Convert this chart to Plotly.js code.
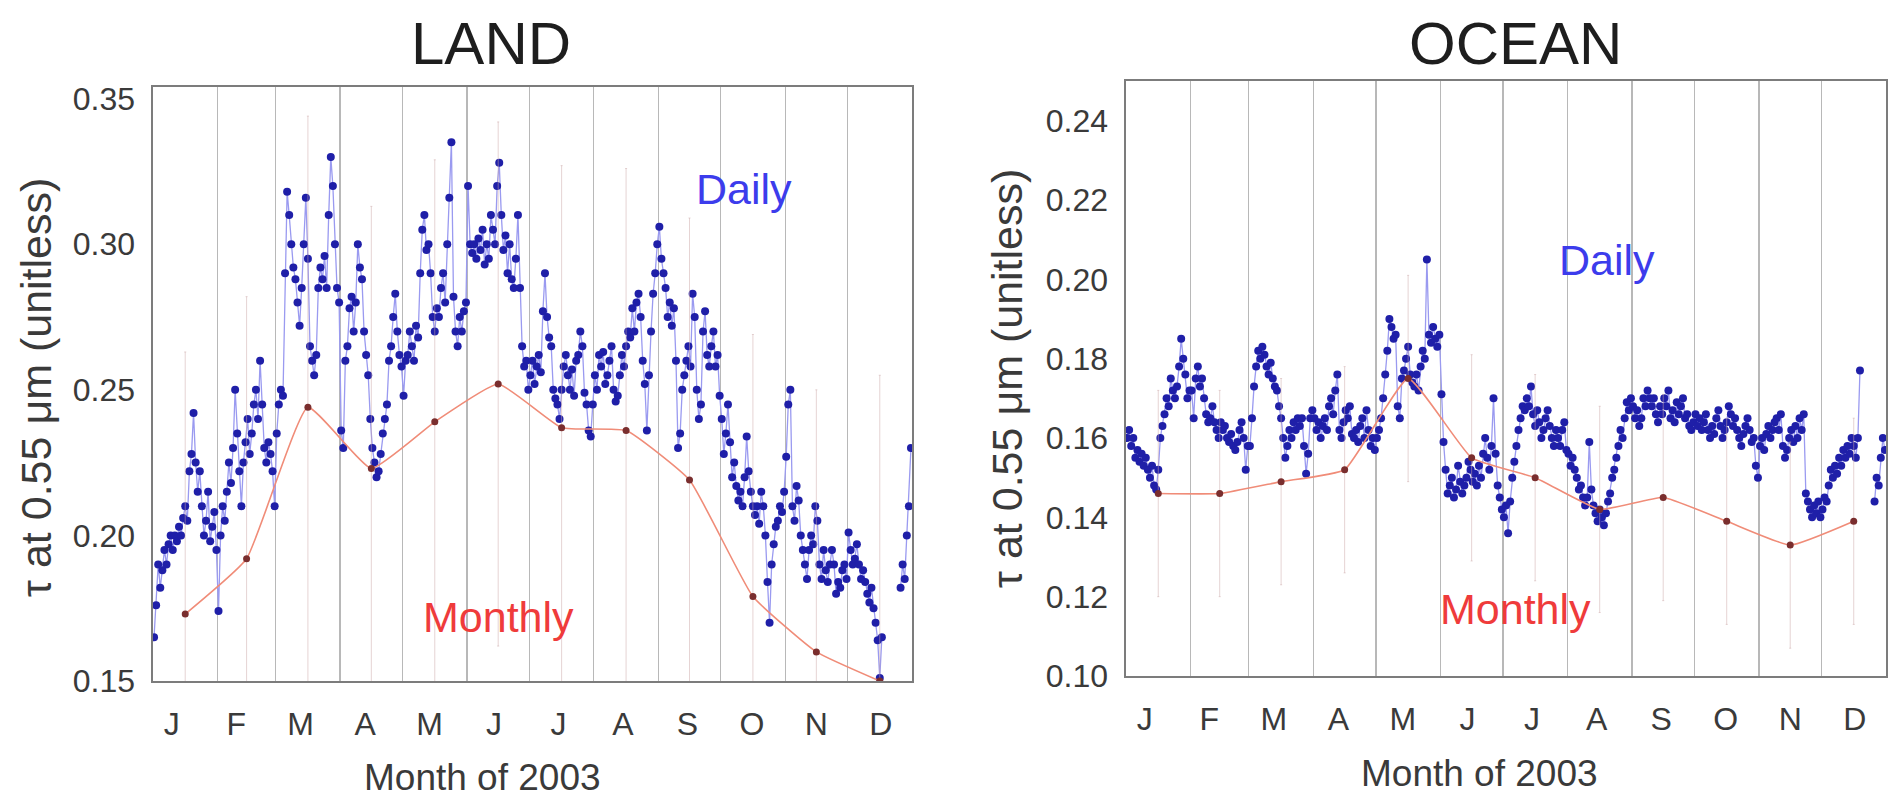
<!DOCTYPE html>
<html>
<head>
<meta charset="utf-8">
<script src="https://cdn.plot.ly/plotly-3.0.1.min.js"></script>
<style>
  html, body { margin: 0; padding: 0; background: #ffffff; }
  #chart { width: 1898px; height: 799px; }
</style>
</head>
<body>
<div id="chart"></div>
<script>
// ---------------- DATA ----------------
const monthLetters = ['J','F','M','A','M','J','J','A','S','O','N','D'];
const daysInMonth = [31,28,31,30,31,30,31,31,30,31,30,31];

// Daily aerosol optical depth over LAND, 2003 (one array per month, null = no data)
const landDaily = [
  [0.165,0.176,0.19,0.182,0.188,0.195,0.19,0.197,0.2,0.195,0.2,0.198,0.203,0.2,0.206,0.21,0.205,0.222,0.228,0.242,0.225,0.215,0.222,0.21,0.2,0.205,0.215,0.198,0.203,0.208,0.195],
  [0.174,0.2,0.21,0.205,0.215,0.225,0.218,0.23,0.25,0.235,0.222,0.21,0.225,0.232,0.24,0.228,0.235,0.245,0.25,0.24,0.26,0.245,0.23,0.225,0.232,0.228,0.222,0.21],
  [0.235,0.245,0.25,0.248,0.29,0.318,0.31,0.3,0.292,0.288,0.28,0.272,0.285,0.3,0.316,0.295,0.265,0.26,0.255,0.262,0.285,0.292,0.288,0.296,0.285,0.31,0.33,0.32,0.3,0.285,0.28],
  [0.236,0.23,0.26,0.265,0.278,0.282,0.27,0.28,0.3,0.292,0.288,0.27,0.262,0.255,0.24,0.23,0.225,0.22,0.222,0.228,0.235,0.24,0.245,0.26,0.265,0.275,0.283,0.27,0.262,0.258],
  [0.248,0.26,0.262,0.27,0.265,0.26,0.272,0.268,0.29,0.305,0.31,0.298,0.3,0.29,0.275,0.27,0.278,0.275,0.285,0.29,0.28,0.3,0.316,0.335,0.282,0.27,0.265,0.275,0.27,0.277,0.28],
  [0.32,0.3,0.297,0.3,0.295,0.302,0.298,0.305,0.293,0.3,0.295,0.31,0.305,0.3,0.32,0.328,0.31,0.298,0.303,0.29,0.3,0.288,0.285,0.295,0.31,0.285,0.265,0.258,0.26,0.25],
  [0.255,0.26,0.252,0.258,0.262,0.256,0.277,0.29,0.275,0.268,0.265,0.25,0.247,0.245,0.24,0.25,0.258,0.262,0.255,0.25,0.257,0.248,0.26,0.262,0.27,0.265,0.249,0.245,0.236,0.234,0.245],
  [0.255,0.25,0.262,0.258,0.263,0.252,0.255,0.26,0.265,0.25,0.246,0.248,0.255,0.262,0.258,0.265,0.27,0.268,0.278,0.27,0.28,0.283,0.275,0.26,0.252,0.236,0.255,0.27,0.283,0.29,0.3],
  [0.306,0.295,0.29,0.285,0.275,0.28,0.272,0.278,0.26,0.23,0.235,0.25,0.255,0.26,0.265,0.258,0.283,0.275,0.25,0.24,0.245,0.27,0.277,0.262,0.258,0.265,0.27,0.258,0.262,0.248],
  [0.24,0.228,0.235,0.245,0.232,0.22,0.225,0.217,0.212,0.215,0.21,0.22,0.234,0.222,0.215,0.21,0.207,0.21,0.204,0.215,0.21,0.2,0.184,0.17,0.19,0.197,0.203,0.205,0.21,0.208,0.215],
  [0.227,0.245,0.25,0.21,0.205,0.217,0.212,0.2,0.195,0.19,0.185,0.195,0.2,0.197,0.21,0.205,0.19,0.185,0.195,0.188,0.184,0.19,0.195,0.19,0.18,0.184,0.182,0.188,0.19,0.185],
  [0.201,0.195,0.19,0.192,0.197,0.19,0.185,0.188,0.184,0.18,0.177,0.182,0.175,0.17,0.164,0.151,0.165,null,null,null,null,null,null,null,null,0.182,0.19,0.185,0.2,0.21,0.23]
];

// Daily aerosol optical depth over OCEAN, 2003
const oceanDaily = [
  [0.16,0.162,0.158,0.16,0.155,0.157,0.154,0.156,0.153,0.155,0.152,0.15,0.153,0.148,0.147,0.152,0.16,0.163,0.166,0.17,0.168,0.175,0.172,0.17,0.173,0.178,0.185,0.18,0.176,0.17,0.172],
  [0.172,0.165,0.175,0.178,0.173,0.175,0.17,0.166,0.164,0.165,0.168,0.164,0.162,0.16,0.164,0.162,0.163,0.16,0.159,0.161,0.158,0.157,0.159,0.162,0.164,0.16,0.152,0.158],
  [0.158,0.165,0.173,0.178,0.182,0.18,0.183,0.181,0.178,0.176,0.179,0.175,0.173,0.172,0.168,0.165,0.16,0.155,0.158,0.162,0.16,0.164,0.162,0.165,0.163,0.165,0.158,0.151,0.156,0.165,0.167],
  [0.165,0.162,0.164,0.16,0.163,0.165,0.162,0.168,0.17,0.166,0.172,0.176,0.162,0.16,0.164,0.167,0.165,0.168,0.161,0.16,0.162,0.159,0.163,0.165,0.16,0.167,0.162,0.158,0.16,0.157],
  [0.16,0.162,0.165,0.17,0.176,0.182,0.19,0.188,0.185,0.186,0.168,0.165,0.175,0.177,0.18,0.183,0.176,0.174,0.173,0.176,0.172,0.178,0.182,0.18,0.205,0.186,0.184,0.188,0.185,0.183,0.186],
  [0.171,0.159,0.152,0.146,0.148,0.15,0.145,0.147,0.153,0.149,0.146,0.148,0.15,0.154,0.152,0.149,0.151,0.148,0.153,0.15,0.156,0.16,0.155,0.152,0.158,0.17,0.156,0.148,0.145,0.142],
  [0.14,0.143,0.136,0.144,0.15,0.154,0.158,0.162,0.165,0.168,0.167,0.17,0.168,0.173,0.166,0.163,0.167,0.164,0.16,0.162,0.165,0.167,0.163,0.16,0.158,0.162,0.16,0.158,0.162,0.164,0.157],
  [0.156,0.153,0.155,0.152,0.15,0.147,0.148,0.145,0.143,0.145,0.159,0.147,0.143,0.141,0.139,0.142,0.14,0.138,0.141,0.144,0.146,0.15,0.152,0.155,0.158,0.162,0.16,0.165,0.169,0.167,0.17],
  [0.168,0.165,0.167,0.163,0.165,0.17,0.168,0.172,0.17,0.168,0.17,0.166,0.164,0.168,0.166,0.17,0.168,0.172,0.165,0.167,0.164,0.169,0.166,0.168,0.17,0.165,0.166,0.163,0.162,0.164],
  [0.166,0.163,0.165,0.162,0.164,0.166,0.162,0.16,0.163,0.161,0.165,0.167,0.163,0.16,0.162,0.164,0.168,0.166,0.163,0.165,0.162,0.16,0.158,0.161,0.163,0.165,0.162,0.159,0.16,0.153,0.15],
  [0.158,0.16,0.157,0.161,0.163,0.16,0.162,0.164,0.165,0.162,0.166,0.158,0.155,0.157,0.16,0.162,0.159,0.163,0.16,0.165,0.162,0.166,0.146,0.144,0.142,0.14,0.143,0.141,0.144,0.14],
  [0.142,0.145,0.144,0.148,0.152,0.15,0.153,0.151,0.155,0.153,0.157,0.155,0.158,0.156,0.16,0.158,0.155,0.16,0.177,null,null,null,null,null,null,0.144,0.15,0.148,0.155,0.16,0.157]
];

// Monthly means and their spread
const landMonthly   = [0.173,0.192,0.244,0.223,0.239,0.252,0.237,0.236,0.219,0.179,0.160,0.150];
const landMonthlySd = [0.09,0.09,0.10,0.09,0.09,0.09,0.09,0.09,0.09,0.09,0.09,0.105];
const oceanMonthly   = [0.146,0.146,0.149,0.152,0.175,0.155,0.150,0.142,0.145,0.139,0.133,0.139];
const oceanMonthlySd = [0.026,0.026,0.026,0.026,0.026,0.026,0.026,0.026,0.026,0.026,0.026,0.026];

// ---------------- BUILD ----------------
const monthStart = [];
daysInMonth.reduce((acc, d, i) => { monthStart[i] = acc; return acc + d; }, 0);
const monthMid = monthStart.map((s, i) => s + daysInMonth[i] / 2);
const boundaries = monthStart.slice(1);
const tickDays = monthLetters.map((_, i) => 9 + 31 * i);

function flatten(byMonth) {
  const xs = [], ys = [];
  byMonth.forEach((arr, m) => {
    const step = daysInMonth[m] / arr.length;
    arr.forEach((v, i) => { xs.push(monthStart[m] + (i + 0.5) * step); ys.push(v); });
  });
  return { xs, ys };
}

const L = flatten(landDaily);
const O = flatten(oceanDaily);

const FONT = 'Liberation Sans, Arial, Helvetica, sans-serif';
const dailyLine = '#9a9af0', dailyMarker = '#1f1fa8';
const monLine = '#f08c78', monMarker = '#7a2e2e';
const errColor = 'rgba(205,170,170,0.5)';

function dailyTrace(d, xa, ya) {
  return { x: d.xs, y: d.ys, xaxis: xa, yaxis: ya, type: 'scatter', mode: 'lines+markers',
    connectgaps: false, line: { color: dailyLine, width: 1.3 },
    marker: { color: dailyMarker, size: 8 }, showlegend: false, hoverinfo: 'skip' };
}
function monthlyTrace(vals, sd, xa, ya) {
  return { x: monthMid, y: vals, xaxis: xa, yaxis: ya, type: 'scatter', mode: 'lines+markers',
    line: { color: monLine, width: 1.6, shape: 'spline', smoothing: 0.4 },
    marker: { color: monMarker, size: 7 },
    error_y: { type: 'data', array: sd, visible: true, color: errColor, thickness: 1, width: 1 },
    showlegend: false, hoverinfo: 'skip' };
}

const W = 1898, H = 799;
const px = v => v / W;
const py = v => 1 - v / H;

function xAxis(domain, anchor) {
  return {
    domain: domain, anchor: anchor, range: [0, 365], fixedrange: true,
    tickmode: 'array', tickvals: tickDays, ticktext: monthLetters,
    showgrid: false, zeroline: false, ticks: '',
    showline: true, mirror: true, linecolor: '#7c7c7c', linewidth: 1.6,
    tickfont: { family: FONT, size: 32, color: '#3a3a3a' },
    ticklabelstandoff: 14,
    minor: { tickmode: 'array', tickvals: boundaries, showgrid: true, gridcolor: '#b8b8b8', gridwidth: 1.3, ticks: '' }
  };
}
function yAxis(domain, anchor, range, dtick) {
  return {
    domain: domain, anchor: anchor, range: range, fixedrange: true,
    tick0: range[0], dtick: dtick, tickformat: '.2f',
    showgrid: false, zeroline: false, ticks: '',
    showline: true, mirror: true, linecolor: '#7c7c7c', linewidth: 1.6,
    tickfont: { family: FONT, size: 32, color: '#3a3a3a' },
    ticklabelstandoff: 10
  };
}

const yTitle = 'τ at 0.55 μm (unitless)';
const layout = {
  width: W, height: H,
  margin: { l: 0, r: 0, t: 0, b: 0 },
  paper_bgcolor: '#ffffff', plot_bgcolor: '#ffffff',
  xaxis: xAxis([px(153), px(912)], 'y'),
  yaxis: yAxis([py(681), py(87)], 'x', [0.15, 0.354], 0.05),
  xaxis2: xAxis([px(1126), px(1886)], 'y2'),
  yaxis2: yAxis([py(676), py(81)], 'x2', [0.10, 0.25], 0.02),
  annotations: [
    { text: 'LAND', xref: 'paper', yref: 'paper', x: px(491), y: py(44), xanchor: 'center', yanchor: 'middle', showarrow: false,
      font: { family: FONT, size: 60, color: '#1e1e1e' } },
    { text: 'OCEAN', xref: 'paper', yref: 'paper', x: px(1515), y: py(43), xanchor: 'center', yanchor: 'middle', showarrow: false,
      font: { family: FONT, size: 60, color: '#1e1e1e' } },
    { text: 'Month of 2003', xref: 'paper', yref: 'paper', x: px(482), y: py(777), xanchor: 'center', yanchor: 'middle', showarrow: false,
      font: { family: FONT, size: 37, color: '#3a3a3a' } },
    { text: 'Month of 2003', xref: 'paper', yref: 'paper', x: px(1479), y: py(773), xanchor: 'center', yanchor: 'middle', showarrow: false,
      font: { family: FONT, size: 37, color: '#3a3a3a' } },
    { text: yTitle, xref: 'paper', yref: 'paper', x: px(36), y: py(388), xanchor: 'center', yanchor: 'middle', textangle: -90, showarrow: false,
      font: { family: FONT, size: 43, color: '#3a3a3a' } },
    { text: yTitle, xref: 'paper', yref: 'paper', x: px(1007), y: py(378), xanchor: 'center', yanchor: 'middle', textangle: -90, showarrow: false,
      font: { family: FONT, size: 43, color: '#3a3a3a' } },
    { text: 'Daily', xref: 'x', yref: 'y', x: 284, y: 0.319, showarrow: false, font: { family: FONT, size: 43, color: '#3c3cec' } },
    { text: 'Monthly', xref: 'x', yref: 'y', x: 166, y: 0.172, showarrow: false, font: { family: FONT, size: 43, color: '#ef3b3b' } },
    { text: 'Daily', xref: 'x2', yref: 'y2', x: 231, y: 0.205, showarrow: false, font: { family: FONT, size: 43, color: '#3c3cec' } },
    { text: 'Monthly', xref: 'x2', yref: 'y2', x: 187, y: 0.1168, showarrow: false, font: { family: FONT, size: 43, color: '#ef3b3b' } }
  ]
};

const data = [
  dailyTrace(L, 'x', 'y'),
  monthlyTrace(landMonthly, landMonthlySd, 'x', 'y'),
  dailyTrace(O, 'x2', 'y2'),
  monthlyTrace(oceanMonthly, oceanMonthlySd, 'x2', 'y2')
];

Plotly.newPlot('chart', data, layout, { displayModeBar: false, staticPlot: true });
</script>
</body>
</html>
